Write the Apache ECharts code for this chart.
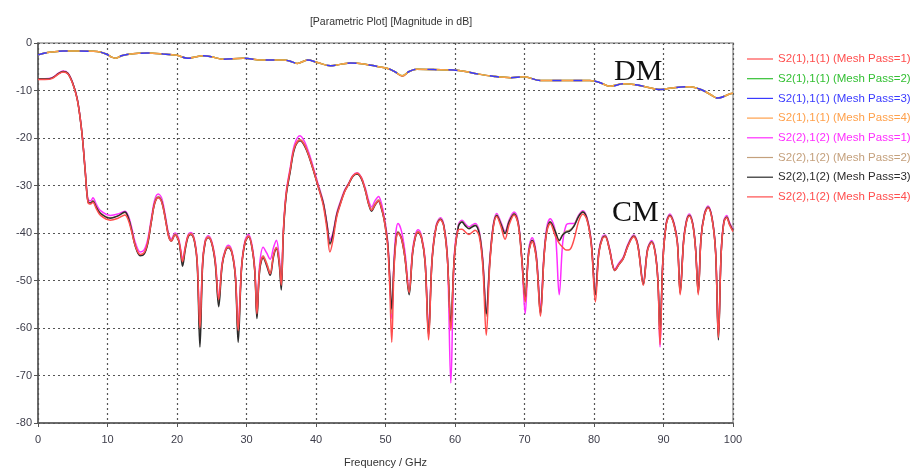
<!DOCTYPE html>
<html>
<head>
<meta charset="utf-8">
<script src="https://cdn.jsdelivr.net/npm/echarts@6/dist/echarts.min.js"></script>
<style>
  html, body { margin: 0; padding: 0; background: #ffffff; }
  #chart { width: 917px; height: 468px; }
</style>
</head>
<body>
<div id="chart"></div>
<script>
// Axis ticks
const freqTicks = [0, 10, 20, 30, 40, 50, 60, 70, 80, 90, 100];
const dbTicks = [0, -10, -20, -30, -40, -50, -60, -70, -80];

// Differential-mode transmission S2(1),1(1), one array per mesh pass (dB)
const dmFreq = [0, 1, 2, 3.6, 6, 8.5, 9.8, 10.5, 11.2, 12, 12.8, 15.7, 18, 20, 21.5, 23.8, 25, 26.6, 29.5, 32.4,
  35.3, 36.2, 37.3, 38.8, 40.2, 42.1, 43.5, 45, 46.9, 49, 50.2, 51.3, 52.4, 53.4, 54.5, 57, 59.8, 61.5, 63.2, 65.5,
  68, 69.9, 72.3, 75, 79.4, 80.8, 82.3, 84.2, 86, 88, 89.5, 91.5, 93.8, 95.7, 96.8, 97.8, 99.6, 100];
const dmPass1 = [-2.5, -2.1, -1.9, -1.7, -1.7, -1.8, -2.3, -2.9, -3.2, -2.7, -2.4, -2.1, -2.3, -2.6, -3.2, -2.7, -2.9, -3.4, -3.2, -3.6,
  -3.6, -3.8, -4.3, -3.6, -4.1, -4.8, -4.5, -4.2, -4.4, -5.0, -5.3, -6.0, -7.0, -6.0, -5.5, -5.6, -5.7, -6.0, -6.5, -7.0,
  -7.3, -7.1, -7.9, -7.9, -7.9, -8.3, -9.1, -8.6, -8.8, -9.4, -9.8, -9.4, -9.2, -10.0, -10.9, -11.6, -10.7, -10.6];
const dmPass2 = [-2.5, -2.1, -1.9, -1.7, -1.7, -1.8, -2.3, -2.9, -3.2, -2.7, -2.4, -2.1, -2.3, -2.6, -3.2, -2.7, -2.9, -3.4, -3.2, -3.6,
  -3.6, -3.8, -4.3, -3.6, -4.1, -4.8, -4.5, -4.2, -4.4, -5.0, -5.3, -6.0, -6.9, -6.0, -5.5, -5.6, -5.7, -6.0, -6.5, -7.0,
  -7.3, -7.1, -7.9, -7.9, -7.9, -8.3, -9.1, -8.6, -8.8, -9.4, -9.8, -9.4, -9.2, -10.0, -10.9, -11.6, -10.7, -10.6];
const dmPass3 = [-2.5, -2.1, -1.9, -1.7, -1.7, -1.8, -2.3, -2.9, -3.2, -2.7, -2.4, -2.1, -2.3, -2.6, -3.2, -2.7, -2.9, -3.4, -3.2, -3.6,
  -3.6, -3.8, -4.3, -3.6, -4.1, -4.8, -4.5, -4.2, -4.4, -5.0, -5.3, -6.0, -6.9, -6.0, -5.5, -5.6, -5.7, -6.0, -6.5, -7.0,
  -7.3, -7.1, -7.9, -7.9, -7.9, -8.3, -9.2, -8.6, -8.8, -9.4, -9.8, -9.4, -9.2, -10.0, -10.9, -11.6, -10.7, -10.6];
const dmPass4 = [-2.5, -2.1, -1.9, -1.7, -1.7, -1.8, -2.3, -2.9, -3.2, -2.7, -2.4, -2.1, -2.3, -2.6, -3.2, -2.7, -2.9, -3.4, -3.2, -3.6,
  -3.6, -3.8, -4.3, -3.6, -4.1, -4.8, -4.5, -4.2, -4.4, -5.0, -5.3, -6.0, -6.9, -6.0, -5.5, -5.6, -5.7, -6.0, -6.5, -7.0,
  -7.3, -7.1, -7.9, -7.9, -7.9, -8.3, -9.1, -8.6, -8.8, -9.4, -9.8, -9.4, -9.2, -10.0, -10.9, -11.6, -10.7, -10.6];

// Common-mode transmission S2(2),1(2), one array per mesh pass (dB)
const cmFreq = [0, 1, 2, 3, 3.6, 4.3, 5.0, 5.6, 6.0, 6.4, 6.8, 7.2, 7.6, 7.9, 8.4, 9.0, 10.4, 11.5, 12.5, 13.0,
  13.5, 14.0, 14.7, 15.3, 15.8, 16.3, 16.8, 17.3, 17.8, 18.3, 18.8, 19.2, 19.7, 20.2, 20.5, 20.8, 21.2, 21.6, 22.0, 22.5,
  22.9, 23.3, 23.7, 24.1, 24.5, 25.0, 25.5, 26.0, 26.5, 27.0, 27.4, 27.9, 28.4, 28.8, 29.3, 29.8, 30.3, 30.8, 31.2, 31.5,
  31.9, 32.4, 32.9, 33.4, 33.9, 34.3, 34.7, 35.0, 35.3, 35.7, 36.3, 36.9, 37.7, 38.4, 39.1, 39.7, 40.2, 40.7, 41.1, 41.6,
  42.0, 42.4, 43.0, 43.5, 44.1, 44.7, 45.3, 45.9, 46.5, 47.1, 47.6, 48.0, 48.5, 49.0, 49.4, 49.8, 50.3, 50.6, 50.9, 51.2,
  51.5, 51.8, 52.3, 52.8, 53.4, 53.9, 54.3, 54.7, 55.2, 55.7, 56.2, 56.7, 57.3, 57.9, 58.4, 58.9, 59.4, 59.9, 60.5, 61.0,
  61.5, 62.0, 62.5, 62.9, 63.5, 64.0, 64.5, 65.0, 65.5, 66.0, 66.6, 67.2, 67.8, 68.5, 69.1, 69.6, 70.1, 70.6, 71.1, 71.7,
  72.3, 72.8, 73.2, 73.7, 74.4, 75.0, 75.5, 76.0, 76.5, 77.1, 77.8, 78.4, 79.0, 79.6, 80.2, 80.7, 81.2, 81.6, 82.2, 83.0,
  83.6, 84.2, 84.9, 85.7, 86.3, 87.1, 87.7, 88.3, 88.8, 89.2, 89.5, 89.9, 90.4, 90.9, 91.5, 92.0, 92.4, 92.9, 93.3, 93.7,
  94.2, 94.6, 95.0, 95.4, 95.9, 96.4, 97.0, 97.5, 97.9, 98.3, 98.7, 99.1, 99.5, 100];
const cmPass1 = [-7.5, -7.5, -7.3, -6.3, -5.9, -6.3, -8.4, -11.4, -14.9, -19.9, -26.8, -33.0, -33.2, -32.6, -34.0, -35.3, -36.3, -36.0, -35.4, -36.4,
  -39.0, -42.0, -44.0, -43.5, -41.3, -37.0, -33.0, -31.8, -32.7, -36.2, -40.2, -41.2, -40.0, -41.0, -43.2, -45.5, -42.8, -40.4, -39.9, -41.3,
  -45.8, -59.0, -45.8, -41.3, -40.6, -41.8, -45.6, -53.5, -46.2, -43.3, -42.6, -43.8, -48.6, -59.5, -46.7, -41.5, -40.3, -42.6, -47.5, -56.5,
  -46.5, -43.0, -44.2, -45.5, -43.0, -41.5, -45.0, -50.0, -39.5, -31.5, -26.2, -21.4, -19.5, -20.9, -23.7, -26.6, -29.2, -31.6, -33.8, -38.2,
  -41.5, -40.2, -35.7, -33.4, -31.0, -29.5, -27.9, -27.3, -28.2, -30.6, -33.3, -34.5, -33.2, -32.3, -33.7, -36.4, -41.5, -49.0, -58.0, -46.5,
  -39.8, -38.0, -39.6, -44.0, -51.8, -43.5, -40.3, -39.3, -40.7, -45.6, -60.0, -45.2, -38.3, -36.8, -38.3, -44.5, -71.6, -44.5, -38.2, -37.3,
  -38.1, -38.7, -38.3, -38.0, -39.7, -45.6, -57.0, -45.6, -38.3, -35.9, -37.7, -39.7, -37.2, -35.6, -37.6, -45.0, -57.0, -43.5, -41.0, -44.5,
  -55.5, -44.5, -38.8, -37.0, -39.5, -53.0, -42.0, -38.3, -38.0, -38.0, -36.2, -35.3, -36.8, -41.7, -52.3, -43.7, -40.8, -40.4, -43.0, -47.6,
  -46.3, -45.1, -42.3, -40.4, -42.3, -50.3, -43.3, -41.6, -43.8, -49.8, -64.0, -45.8, -37.8, -36.0, -37.8, -41.8, -52.0, -41.3, -37.3, -36.0,
  -37.8, -42.8, -52.0, -40.8, -35.8, -34.3, -36.8, -43.8, -61.0, -43.8, -37.3, -36.3, -37.8, -39.2];
const cmPass2 = [-7.6, -7.6, -7.4, -6.4, -6.0, -6.4, -8.5, -11.5, -15.0, -20.0, -27.0, -33.4, -33.6, -33.2, -34.5, -35.8, -36.8, -36.4, -35.7, -36.8,
  -39.5, -42.6, -44.6, -44.2, -42.0, -37.5, -33.5, -32.3, -33.2, -36.6, -40.5, -41.5, -40.2, -41.3, -43.6, -46.2, -43.1, -40.6, -40.1, -41.5,
  -46.0, -61.0, -46.0, -41.5, -40.8, -42.0, -46.0, -54.5, -46.5, -43.5, -42.9, -44.0, -49.0, -61.0, -47.0, -41.8, -40.6, -43.0, -48.0, -57.5,
  -47.5, -44.8, -46.3, -48.3, -44.5, -43.0, -46.0, -51.0, -40.0, -32.0, -26.7, -22.0, -20.3, -21.5, -24.2, -27.0, -29.5, -31.8, -34.0, -38.5,
  -42.5, -40.8, -36.0, -33.7, -31.2, -29.6, -28.0, -27.4, -28.3, -30.9, -33.8, -35.0, -33.8, -33.0, -34.5, -37.0, -42.0, -49.5, -57.0, -47.5,
  -41.3, -39.7, -41.0, -45.0, -52.4, -44.0, -40.7, -39.7, -41.0, -46.0, -61.0, -45.5, -38.5, -37.0, -38.5, -45.0, -60.0, -45.0, -38.5, -37.6,
  -38.4, -39.0, -38.6, -38.3, -40.0, -46.0, -57.5, -46.0, -38.5, -36.2, -38.0, -40.0, -37.5, -35.9, -38.0, -45.0, -53.4, -44.0, -41.5, -45.0,
  -56.6, -45.0, -39.5, -37.6, -39.5, -41.5, -40.3, -39.6, -39.4, -38.5, -36.4, -35.5, -37.0, -42.0, -52.7, -44.0, -41.0, -40.6, -43.2, -47.8,
  -46.5, -45.3, -42.5, -40.6, -42.5, -50.6, -43.5, -41.8, -44.0, -50.0, -62.0, -46.0, -38.0, -36.2, -38.0, -42.0, -52.4, -41.5, -37.5, -36.2,
  -38.0, -43.0, -52.4, -41.0, -36.0, -34.5, -37.0, -44.0, -61.5, -44.0, -37.5, -36.6, -38.0, -39.4];
const cmPass3 = [-7.6, -7.6, -7.4, -6.4, -6.0, -6.4, -8.5, -11.5, -15.1, -20.1, -27.2, -33.5, -33.7, -33.3, -34.6, -35.9, -36.9, -36.4, -35.6, -36.8,
  -39.6, -42.8, -44.8, -44.4, -42.2, -37.7, -33.7, -32.5, -33.4, -36.8, -40.7, -41.7, -40.4, -41.5, -43.9, -47.0, -43.4, -40.8, -40.3, -41.7,
  -46.3, -64.0, -46.4, -41.7, -41.0, -42.2, -46.4, -55.5, -46.8, -43.7, -43.1, -44.2, -49.4, -63.0, -47.3, -42.0, -40.8, -43.2, -48.3, -58.0,
  -47.8, -45.2, -46.9, -48.9, -44.9, -43.3, -46.5, -52.0, -40.3, -32.3, -27.0, -22.3, -20.6, -21.8, -24.4, -27.2, -29.7, -32.0, -34.1, -38.5,
  -42.2, -40.6, -36.1, -33.8, -31.3, -29.7, -28.1, -27.6, -28.5, -31.1, -34.1, -35.4, -34.1, -33.3, -34.8, -37.2, -42.0, -49.0, -56.0, -47.5,
  -41.5, -39.9, -41.2, -45.3, -53.0, -44.3, -40.9, -39.9, -41.2, -46.3, -61.5, -45.8, -38.7, -37.1, -38.6, -45.2, -59.0, -45.3, -38.6, -37.7,
  -38.5, -39.1, -38.7, -38.4, -40.2, -46.2, -57.0, -46.3, -38.7, -36.3, -38.1, -40.1, -37.6, -36.0, -38.1, -45.2, -53.8, -44.2, -41.6, -45.2,
  -57.0, -45.2, -39.6, -37.7, -39.6, -41.6, -40.4, -39.8, -39.6, -38.6, -36.5, -35.6, -37.1, -42.1, -53.0, -44.1, -41.1, -40.7, -43.3, -47.9,
  -46.6, -45.4, -42.6, -40.7, -42.6, -50.8, -43.6, -41.9, -44.1, -50.2, -61.0, -46.2, -38.1, -36.3, -38.1, -42.1, -52.6, -41.6, -37.6, -36.3,
  -38.1, -43.1, -52.6, -41.1, -36.1, -34.6, -37.1, -44.1, -62.5, -44.2, -37.6, -36.7, -38.1, -39.5];
const cmPass4 = [-7.7, -7.7, -7.5, -6.5, -6.1, -6.5, -8.6, -11.6, -15.1, -20.1, -27.1, -33.6, -33.9, -33.5, -34.9, -36.3, -37.3, -36.9, -36.2, -37.3,
  -39.9, -42.7, -44.5, -44.1, -41.9, -37.6, -33.7, -32.6, -33.5, -36.9, -40.8, -41.7, -40.4, -41.4, -43.5, -46.0, -43.0, -40.6, -40.2, -41.6,
  -46.0, -60.0, -46.0, -41.6, -40.9, -42.1, -46.0, -54.0, -46.6, -43.6, -43.0, -44.1, -49.0, -60.5, -47.1, -41.9, -40.7, -43.1, -48.0, -57.0,
  -47.4, -45.0, -46.5, -48.6, -44.6, -43.1, -46.0, -51.0, -39.8, -31.9, -26.6, -22.0, -20.4, -21.6, -24.3, -27.1, -29.7, -32.2, -34.6, -39.5,
  -44.0, -41.8, -36.5, -34.0, -31.4, -29.7, -28.0, -27.4, -28.3, -31.0, -34.0, -35.2, -34.0, -33.2, -34.6, -37.2, -42.5, -51.0, -63.0, -48.5,
  -41.8, -40.0, -41.2, -45.2, -52.5, -44.1, -40.8, -39.8, -41.1, -46.1, -62.5, -45.7, -38.7, -37.2, -38.7, -45.3, -60.5, -45.4, -39.3, -39.2,
  -39.8, -40.3, -39.8, -39.4, -40.8, -47.0, -61.5, -46.8, -38.9, -36.5, -38.6, -41.3, -38.2, -36.2, -38.3, -45.5, -54.5, -44.3, -41.8, -45.4,
  -57.5, -45.3, -39.8, -38.0, -40.5, -42.2, -43.0, -43.6, -43.5, -41.5, -37.5, -36.0, -37.3, -42.3, -54.5, -44.3, -41.2, -40.8, -43.3, -47.9,
  -46.6, -45.4, -42.7, -40.8, -42.7, -51.0, -43.7, -42.0, -44.2, -50.3, -63.5, -46.3, -38.2, -36.4, -38.2, -42.2, -53.0, -41.7, -37.7, -36.4,
  -38.2, -43.2, -53.0, -41.2, -36.2, -34.7, -37.2, -44.2, -62.0, -44.3, -37.7, -36.8, -38.3, -39.7];

const seriesNames = [
  'S2(1),1(1) (Mesh Pass=1)', 'S2(1),1(1) (Mesh Pass=2)', 'S2(1),1(1) (Mesh Pass=3)', 'S2(1),1(1) (Mesh Pass=4)',
  'S2(2),1(2) (Mesh Pass=1)', 'S2(2),1(2) (Mesh Pass=2)', 'S2(2),1(2) (Mesh Pass=3)', 'S2(2),1(2) (Mesh Pass=4)'
];
const seriesColors = ['#ff4d4d', '#33c033', '#3a3aff', '#ffa04a', '#ff2eff', '#c4a07c', '#2b2b2b', '#ff4d4d'];
const seriesFreq = [dmFreq, dmFreq, dmFreq, dmFreq, cmFreq, cmFreq, cmFreq, cmFreq];
const seriesValues = [dmPass1, dmPass2, dmPass3, dmPass4, cmPass1, cmPass2, cmPass3, cmPass4];

const zip = (xs, ys) => xs.map((x, i) => [x, ys[i]]);

const series = seriesNames.map((name, i) => ({
  name: name,
  type: 'line',
  data: zip(seriesFreq[i], seriesValues[i]),
  smooth: 0.35,
  symbol: 'none',
  animation: false,
  z: i === 2 ? 4 : 3,
  lineStyle: {
    color: seriesColors[i],
    width: 1.5,
    type: i === 2 ? [9, 12] : 'solid'
  },
  itemStyle: { color: seriesColors[i] }
}));

const chart = echarts.init(document.getElementById('chart'), null, { renderer: 'canvas' });

chart.setOption({
  backgroundColor: '#ffffff',
  animation: false,
  title: {
    text: '[Parametric Plot] [Magnitude in dB]',
    left: 386,
    top: 12,
    textAlign: 'center',
    textStyle: { fontFamily: 'Liberation Sans', fontSize: 10.5, fontWeight: 'normal', color: '#333333' }
  },
  grid: {
    left: 38, right: 184, top: 43, bottom: 45,
    outerBoundsMode: 'none',
    containLabel: false,
    show: true,
    borderColor: '#9a9a9a',
    borderWidth: 1.5,
    backgroundColor: 'transparent'
  },
  legend: {
    orient: 'vertical',
    left: 742,
    top: 48,
    itemWidth: 26,
    itemHeight: 12,
    itemGap: 7.7,
    selectedMode: false,
    data: seriesNames.map((name, i) => ({
      name: name,
      icon: 'path://M0,5.4 L26,5.4 L26,6.6 L0,6.6 Z',
      itemStyle: { color: seriesColors[i] },
      textStyle: { color: seriesColors[i] }
    })),
    textStyle: { fontFamily: 'Liberation Sans', fontSize: 11.5, lineHeight: 12 }
  },
  xAxis: {
    type: 'value',
    min: freqTicks[0],
    max: freqTicks[freqTicks.length - 1],
    interval: 10,
    name: 'Frequency / GHz',
    nameLocation: 'middle',
    nameGap: 34,
    nameTextStyle: { fontFamily: 'Liberation Sans', fontSize: 11, color: '#333333' },
    axisLine: { show: true, onZero: false, lineStyle: { color: '#555555', width: 1.5 } },
    axisTick: { show: true, inside: false, length: 4, lineStyle: { color: '#555555' } },
    axisLabel: { margin: 11, fontFamily: 'Liberation Sans', fontSize: 11, color: '#3d3d4a' },
    splitLine: { show: true, lineStyle: { color: '#555555', width: 1.2, type: [2, 3] } }
  },
  yAxis: {
    type: 'value',
    min: dbTicks[dbTicks.length - 1],
    max: dbTicks[0],
    interval: 10,
    axisLine: { show: true, onZero: false, lineStyle: { color: '#555555', width: 1.5 } },
    axisTick: { show: true, inside: false, length: 4, lineStyle: { color: '#555555' } },
    axisLabel: { margin: 6, fontFamily: 'Liberation Sans', fontSize: 11, color: '#3d3d4a' },
    splitLine: { show: true, lineStyle: { color: '#555555', width: 1.2, type: [2, 3] } }
  },
  graphic: [
    {
      type: 'text',
      left: 614,
      top: 57,
      style: { text: 'DM', fontFamily: 'Liberation Serif', fontSize: 30, fill: '#111111' }
    },
    {
      type: 'text',
      left: 612,
      top: 198,
      style: { text: 'CM', fontFamily: 'Liberation Serif', fontSize: 30, fill: '#111111' }
    }
  ],
  series: series
});
</script>
</body>
</html>
